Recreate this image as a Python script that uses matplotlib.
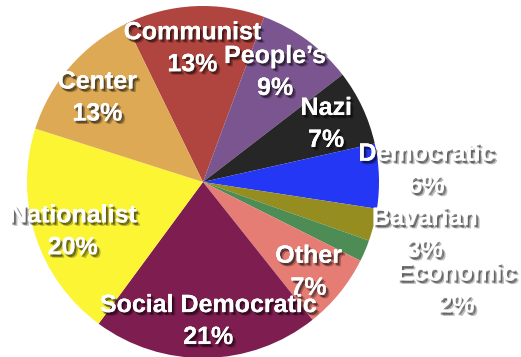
import matplotlib
matplotlib.use("Agg")
import matplotlib.pyplot as plt
import matplotlib.patheffects as pe

parties = ["Communist", "People\u2019s", "Nazi", "Democratic", "Bavarian",
           "Economic", "Other", "Social Democratic", "Nationalist", "Center"]
shares = [13, 9, 7, 6, 3, 2, 7, 21, 20, 13]
colors = ["#B0443F", "#7B5590", "#262626", "#2437F5", "#958D1F",
          "#4E8C55", "#E57D75", "#7E1D4F", "#FBF534", "#DDA955"]

# label block centres in pie units (radius = 1)
label_pos = [(-0.06, 0.76), (0.41, 0.625), (0.70, 0.33), (1.27, 0.07),
             (1.26, -0.295), (1.44, -0.61), (0.60, -0.51), (0.03, -0.79),
             (-0.74, -0.28), (-0.60, 0.48)]

plt.rcParams['font.family'] = ['Liberation Sans', 'DejaVu Sans']

fig = plt.figure(figsize=(5.21, 3.57), dpi=100)
ax = fig.add_axes([27 / 521, -1 / 357, 352 / 521, 352 / 357])
ax.pie(shares, colors=colors, startangle=116, counterclock=False,
       radius=1, wedgeprops=dict(linewidth=0))
ax.set_xlim(-1, 1)
ax.set_ylim(-1, 1)
ax.set_aspect('equal')
ax.axis('off')

shadow = [
    pe.withSimplePatchShadow(offset=(1.5, -1.5), shadow_rgbFace='black', alpha=0.3),
    pe.withSimplePatchShadow(offset=(2.5, -2.5), shadow_rgbFace='black', alpha=0.25),
    pe.withSimplePatchShadow(offset=(1, -2), shadow_rgbFace='black', alpha=0.25),
]

style = dict(ha='center', va='center', fontsize=18, fontweight='bold',
             color='white', path_effects=shadow, annotation_clip=False,
             textcoords='offset points')
half_gap = 11.5  # points between the two lines' centres / 2

for name, pct, (x, y) in zip(parties, shares, label_pos):
    ax.annotate(name, (x, y), xytext=(0, half_gap), **style)
    ax.annotate(f"{pct}%", (x, y), xytext=(0, -half_gap), **style)

fig.savefig("out.png", dpi=100)
